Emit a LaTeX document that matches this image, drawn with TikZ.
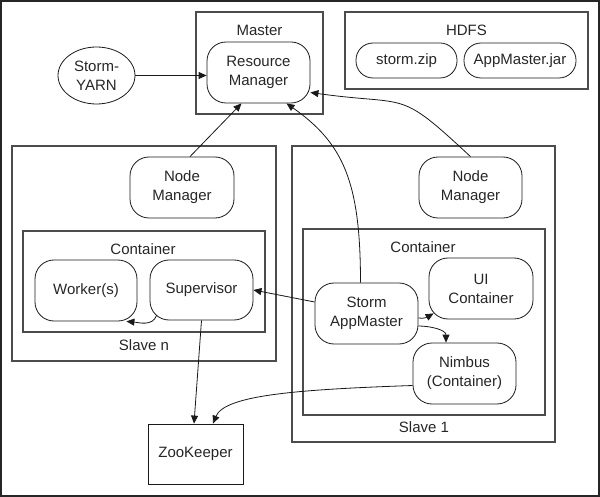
\documentclass[tikz,border=0pt]{standalone}
\usepackage{fontspec}
\setmainfont{Liberation Sans}
\usetikzlibrary{arrows.meta,shapes.geometric,calc}
\begin{document}
\begin{tikzpicture}[x=1pt,y=1pt,
  box/.style={draw=black!70, line width=1.1pt, inner sep=0pt, fill=none},
  rnode/.style={draw=black!90, line width=0.8pt, rounded corners=19pt, minimum width=103pt, minimum height=61pt, align=center, inner sep=0pt, text=black!85},
  pill/.style={draw=black!90, line width=0.8pt, rounded corners=17pt, minimum height=35pt, inner sep=0pt, text=black!85},
  lbl/.style={inner sep=0pt, text=black!85},
  arr/.style={-{Triangle[length=8pt,width=7pt]}, line width=0.8pt, draw=black!90},
  font=\fontsize{15}{19}\selectfont]
\useasboundingbox (0,0) rectangle (600,-497);
\draw[line width=2.2pt, draw=black!85] (1.1,-1.1) rectangle (598.9,-495.9);

% containers / boxes
\node[box, minimum width=127pt, minimum height=102pt] (master) at (259.5,-63) {};
\node[lbl] (masterlbl) at (259.5,-30) {Master};
\node[box, minimum width=243pt, minimum height=77pt] (hdfs) at (466.5,-50.5) {};
\node[lbl] (hdfslbl) at (466.5,-30) {HDFS};
\node[box, minimum width=264pt, minimum height=215pt] (slaven) at (144,-253.5) {};
\node[lbl] (slavenlbl) at (144,-345) {Slave n};
\node[box, minimum width=242pt, minimum height=101pt] (contn) at (144,-281.5) {};
\node[lbl] (contnlbl) at (143,-249) {Container};
\node[box, minimum width=263pt, minimum height=296pt] (slave1) at (423.5,-294) {};
\node[lbl] (slave1lbl) at (424,-427) {Slave 1};
\node[box, minimum width=242pt, minimum height=186pt] (cont1) at (424,-322) {};
\node[lbl] (cont1lbl) at (423,-247) {Container};

% HDFS items
\node[pill, minimum width=101pt] (zip) at (406.5,-60.5) {storm.zip};
\node[pill, minimum width=112pt] (jar) at (520,-60.5) {AppMaster.jar};

% main nodes
\node[draw=black!90, line width=0.8pt, ellipse, minimum width=77pt, minimum height=57pt, inner sep=0pt, align=center, text=black!85] (syarn) at (96.5,-75.5) {Storm-\\YARN};
\node[rnode] (rm) at (258.5,-72.5) {Resource\\Manager};
\node[rnode, minimum width=104pt] (nmn) at (182,-187.5) {Node\\Manager};
\node[rnode, minimum width=102pt] (wk) at (86,-290.5) {Worker(s)};
\node[rnode, minimum height=60pt] (sup) at (201.5,-290) {Supervisor};
\node[rnode] (nm1) at (470.5,-187.5) {Node\\Manager};
\node[rnode] (am) at (366.5,-313.5) {Storm\\AppMaster};
\node[rnode, minimum width=104pt] (ui) at (481,-288.5) {UI\\Container};
\node[rnode] (nim) at (464.5,-373.5) {Nimbus\\(Container)};
\node[draw=black!90, line width=0.8pt, minimum width=95pt, minimum height=60pt, inner sep=0pt, text=black!85] (zk) at (195.5,-454) {ZooKeeper};

% connectors
\draw[arr] (syarn.east) -- (syarn.east -| rm.west);
\draw[arr] ([xshift=8pt]nmn.north) -- ([xshift=-17pt]rm.south);
\draw[arr] ([xshift=-6pt]am.north) to[out=90, in=-35, out distance=100pt, in distance=70pt] ([xshift=28pt]rm.south);
\draw[arr] (nm1.north) to[out=137, in=-8, looseness=1.5] ($(rm.east)+(0,-20)$);
\draw[arr] ([yshift=11.5pt]am.west) -- (sup.east);
\draw[arr] ([shift={(7pt,5pt)}]sup.south west) to[out=-110, in=-5] ([xshift=-11pt]wk.south east);
\draw[arr] (sup.south) -- ([xshift=-1.5pt]zk.north);
\draw[arr] ([yshift=-12pt]nim.west) to[out=182, in=68, out distance=113pt, in distance=31pt] ([xshift=17.5pt]zk.north);
\draw[arr] ([yshift=-4.5pt]am.east) to[out=-10, in=210] ([shift={(5pt,6pt)}]ui.south west);
\draw[arr] ([yshift=-12.5pt]am.east) to[out=0, in=90] ([xshift=-18.5pt]nim.north);
\end{tikzpicture}
\end{document}
